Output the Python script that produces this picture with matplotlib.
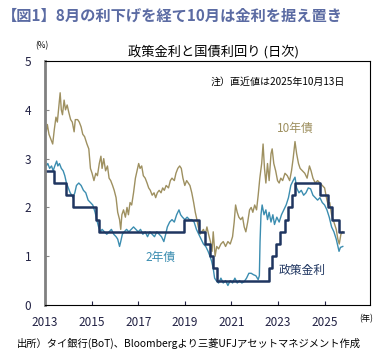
import numpy as np
import matplotlib.pyplot as plt

plt.rcParams['font.family'] = ['Noto Sans CJK JP', 'DejaVu Sans']

# ---------------- datos (año decimal, %) ----------------
# 10年債
t_10y = [2013.00, 2013.05, 2013.10, 2013.17, 2013.25, 2013.33, 2013.40, 2013.47, 2013.53, 2013.60,
         2013.65, 2013.70, 2013.75, 2013.82, 2013.88, 2013.95, 2014.02, 2014.10, 2014.17, 2014.25,
         2014.30, 2014.40, 2014.47, 2014.55, 2014.62, 2014.70, 2014.80, 2014.88, 2014.95, 2015.02,
         2015.10, 2015.18, 2015.25, 2015.33, 2015.40, 2015.45, 2015.52, 2015.60, 2015.68, 2015.75,
         2015.82, 2015.90, 2015.97, 2016.05, 2016.12, 2016.20, 2016.25, 2016.30, 2016.37, 2016.45,
         2016.52, 2016.58, 2016.65, 2016.72, 2016.80, 2016.88, 2016.95, 2017.02, 2017.08, 2017.15,
         2017.22, 2017.30, 2017.38, 2017.45, 2017.52, 2017.60, 2017.68, 2017.75, 2017.82, 2017.90,
         2017.98, 2018.05, 2018.12, 2018.20, 2018.30, 2018.38, 2018.45, 2018.55, 2018.62, 2018.70,
         2018.78, 2018.85, 2018.92, 2019.00, 2019.08, 2019.15, 2019.22, 2019.30, 2019.38, 2019.45,
         2019.52, 2019.58, 2019.65, 2019.72, 2019.80, 2019.88, 2019.95, 2020.02, 2020.10, 2020.17,
         2020.22, 2020.30, 2020.37, 2020.45, 2020.55, 2020.65, 2020.75, 2020.85, 2020.95, 2021.05,
         2021.12, 2021.18, 2021.25, 2021.32, 2021.40, 2021.48, 2021.55, 2021.62, 2021.70, 2021.78,
         2021.85, 2021.92, 2022.00, 2022.08, 2022.15, 2022.22, 2022.30, 2022.36, 2022.42, 2022.48,
         2022.55, 2022.62, 2022.70, 2022.75, 2022.82, 2022.90, 2022.98, 2023.05, 2023.12, 2023.20,
         2023.30, 2023.40, 2023.50, 2023.58, 2023.65, 2023.73, 2023.80, 2023.88, 2023.95, 2024.05,
         2024.15, 2024.25, 2024.35, 2024.42, 2024.50, 2024.60, 2024.70, 2024.80, 2024.90, 2025.00,
         2025.08, 2025.15, 2025.22, 2025.30, 2025.40, 2025.50, 2025.57, 2025.63, 2025.70, 2025.78]
y_10y = [3.65, 3.55, 3.70, 3.50, 3.40, 3.30, 3.60, 3.85, 3.75, 4.10,
         4.35, 4.00, 3.90, 4.20, 4.00, 4.10, 3.95, 3.80, 3.75, 3.55,
         3.80, 3.80, 3.75, 3.65, 3.50, 3.45, 3.30, 3.20, 2.80, 2.70,
         2.55, 2.70, 2.65, 2.90, 3.05, 2.80, 3.00, 2.75, 2.85, 2.60,
         2.55, 2.45, 2.35, 2.20, 1.90, 1.75, 1.55, 1.85, 1.95, 1.80,
         2.00, 1.85, 2.10, 2.05, 2.30, 2.60, 2.75, 2.90, 2.80, 2.85,
         2.65, 2.60, 2.50, 2.40, 2.35, 2.25, 2.30, 2.20, 2.30, 2.35,
         2.30, 2.40, 2.35, 2.45, 2.40, 2.55, 2.60, 2.55, 2.70, 2.80,
         2.85, 2.80, 2.60, 2.45, 2.55, 2.50, 2.45, 2.30, 2.10, 1.90,
         1.75, 1.60, 1.45, 1.50, 1.55, 1.45, 1.60, 1.45, 1.30, 1.10,
         1.50, 1.00, 1.20, 1.15, 1.25, 1.30, 1.20, 1.30, 1.25, 1.40,
         1.70, 2.05, 1.90, 1.80, 1.75, 1.80, 1.60, 1.50, 1.70, 1.95,
         2.00, 1.90, 2.05, 1.95, 2.25, 2.60, 2.90, 3.30, 2.80, 2.50,
         2.90, 2.55, 3.10, 3.20, 2.90, 2.75, 2.55, 2.50, 2.60, 2.55,
         2.70, 2.65, 2.55, 2.75, 3.00, 3.35, 3.10, 2.90, 2.80, 2.75,
         2.70, 2.60, 2.85, 2.75, 2.60, 2.50, 2.55, 2.50, 2.45, 2.40,
         2.20, 2.05, 2.10, 1.85, 1.70, 1.55, 1.35, 1.25, 1.45, 1.50]

# 2年債
t_2y = [2013.00, 2013.05, 2013.12, 2013.20, 2013.28, 2013.35, 2013.42, 2013.50, 2013.55, 2013.62,
        2013.70, 2013.78, 2013.85, 2013.92, 2014.00, 2014.08, 2014.15, 2014.20, 2014.28, 2014.35,
        2014.45, 2014.55, 2014.65, 2014.75, 2014.85, 2014.95, 2015.05, 2015.15, 2015.22, 2015.30,
        2015.38, 2015.45, 2015.55, 2015.65, 2015.75, 2015.85, 2015.95, 2016.05, 2016.12, 2016.20,
        2016.25, 2016.32, 2016.40, 2016.50, 2016.60, 2016.70, 2016.80, 2016.90, 2017.00, 2017.10,
        2017.20, 2017.30, 2017.40, 2017.50, 2017.60, 2017.70, 2017.80, 2017.90, 2018.00, 2018.10,
        2018.18, 2018.25, 2018.35, 2018.45, 2018.55, 2018.65, 2018.75, 2018.82, 2018.90, 2019.00,
        2019.10, 2019.20, 2019.30, 2019.40, 2019.50, 2019.60, 2019.70, 2019.80, 2019.90, 2020.00,
        2020.08, 2020.15, 2020.22, 2020.28, 2020.35, 2020.45, 2020.55, 2020.65, 2020.75, 2020.85,
        2020.95, 2021.05, 2021.15, 2021.25, 2021.35, 2021.45, 2021.55, 2021.65, 2021.75, 2021.85,
        2021.95, 2022.05, 2022.15, 2022.20, 2022.23, 2022.27, 2022.32, 2022.40, 2022.48, 2022.55,
        2022.62, 2022.70, 2022.78, 2022.85, 2022.95, 2023.05, 2023.15, 2023.25, 2023.35, 2023.45,
        2023.55, 2023.65, 2023.73, 2023.80, 2023.90, 2024.00, 2024.10, 2024.20, 2024.30, 2024.40,
        2024.50, 2024.60, 2024.70, 2024.80, 2024.90, 2025.00, 2025.10, 2025.20, 2025.30, 2025.40,
        2025.50, 2025.57, 2025.62, 2025.68, 2025.78]
y_2y = [2.95, 2.85, 2.90, 2.80, 2.85, 2.75, 2.85, 2.95, 2.85, 2.90,
        2.80, 2.75, 2.65, 2.50, 2.40, 2.30, 2.25, 2.20, 2.30, 2.45,
        2.50, 2.45, 2.35, 2.30, 2.15, 2.10, 2.05, 1.90, 1.75, 1.60,
        1.50, 1.55, 1.50, 1.45, 1.50, 1.55, 1.45, 1.40, 1.35, 1.20,
        1.30, 1.45, 1.50, 1.55, 1.50, 1.55, 1.60, 1.55, 1.50, 1.55,
        1.45, 1.50, 1.40, 1.50, 1.45, 1.40, 1.50, 1.45, 1.40, 1.30,
        1.45, 1.60, 1.70, 1.75, 1.70, 1.85, 1.95, 1.85, 1.80, 1.75,
        1.80, 1.75, 1.75, 1.70, 1.55, 1.45, 1.35, 1.25, 1.20, 1.10,
        1.00, 0.90, 0.75, 0.55, 0.50, 0.45, 0.55, 0.45, 0.50, 0.40,
        0.50, 0.45, 0.55, 0.45, 0.50, 0.45, 0.48, 0.55, 0.65, 0.65,
        0.62, 0.60, 0.52, 0.60, 1.30, 1.85, 2.05, 1.85, 1.95, 1.75,
        1.90, 1.70, 1.85, 1.65, 1.80, 1.70, 1.85, 1.95, 2.05, 2.20,
        2.45, 2.55, 2.62, 2.40, 2.30, 2.35, 2.25, 2.30, 2.40, 2.38,
        2.25, 2.20, 2.15, 2.20, 2.10, 2.05, 1.95, 1.80, 1.60, 1.50,
        1.35, 1.20, 1.10, 1.18, 1.20]

# 政策金利 (変更日と水準)
t_pol = [2013.00, 2013.38, 2013.91, 2014.19, 2015.19, 2015.33, 2018.97, 2019.60, 2019.87, 2020.10,
         2020.22, 2020.39, 2022.62, 2022.74, 2022.91, 2023.07, 2023.30, 2023.42, 2023.59, 2023.74,
         2024.80, 2025.15, 2025.33, 2025.62, 2025.78]
y_pol = [2.75, 2.50, 2.25, 2.00, 1.75, 1.50, 1.75, 1.50, 1.25, 1.00,
         0.75, 0.50, 0.75, 1.00, 1.25, 1.50, 1.75, 2.00, 2.25, 2.50,
         2.25, 2.00, 1.75, 1.50, 1.50]

x_ticks = [2013, 2015, 2017, 2019, 2021, 2023, 2025]
y_ticks = [0, 1, 2, 3, 4, 5]

c_10y = '#9e9060'
c_2y = '#3b8db0'
c_pol = '#1f3560'

# ---------------- gráfico ----------------
fig = plt.figure(figsize=(3.86, 3.53), dpi=100)
ax = fig.add_axes([0.1166, 0.136, 0.842, 0.691])

ax.plot(t_10y, y_10y, color=c_10y, lw=1.0)
ax.plot(t_2y, y_2y, color=c_2y, lw=1.0)
ax.step(t_pol, y_pol, where='post', color=c_pol, lw=1.8)

ax.set_xlim(2013, 2026.95)
ax.set_ylim(0, 5)
ax.set_xticks(x_ticks)
ax.set_yticks(y_ticks)
ax.tick_params(axis='both', direction='in', labelsize=8.5, length=3, colors='#222244')
ax.tick_params(axis='y', color='#888888', pad=10)
ax.tick_params(axis='x', pad=8)

for s in ['top', 'right', 'bottom']:
    ax.spines[s].set_linewidth(0.8)
    ax.spines[s].set_color('black')
ax.spines['left'].set_linewidth(2.0)
ax.spines['left'].set_color('#808080')

# textos
fig.text(0.005, 0.955, '【図1】8月の利下げを経て10月は金利を据え置き', fontsize=11,
         fontweight='bold', color='#5b6ba3', va='center', ha='left')
fig.text(0.553, 0.853, '政策金利と国債利回り (日次)', fontsize=9.5, ha='center', va='center')
fig.text(0.108, 0.872, '(%)', fontsize=6, ha='center', va='center')
fig.text(0.948, 0.098, '(年)', fontsize=6, ha='center', va='center')
fig.text(0.045, 0.028, '出所）タイ銀行(BoT)、Bloombergより三菱UFJアセットマネジメント作成',
         fontsize=7.4, ha='left', va='center')

ax.text(0.923, 0.915, '注）直近値は2025年10月13日', transform=ax.transAxes, fontsize=7.2,
        ha='right', va='center')
ax.text(0.770, 0.725, '10年債', transform=ax.transAxes, fontsize=8.5, color=c_10y,
        ha='center', va='center')
ax.text(0.355, 0.195, '2年債', transform=ax.transAxes, fontsize=8.5, color=c_2y,
        ha='center', va='center')
ax.text(0.792, 0.142, '政策金利', transform=ax.transAxes, fontsize=8.5, color=c_pol,
        ha='center', va='center')

plt.savefig('out.png', dpi=100)
